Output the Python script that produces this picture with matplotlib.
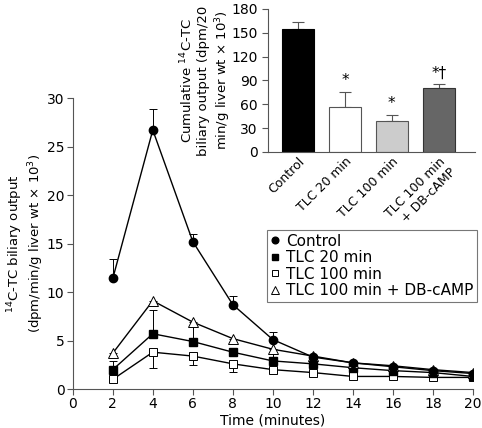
import numpy as np
import matplotlib
matplotlib.use("Agg")
import matplotlib.pyplot as plt

# time course data
time = [2, 4, 6, 8, 10, 12, 14, 16, 18, 20]
control = [11.4, 26.7, 15.2, 8.7, 5.1, 3.3, 2.7, 2.3, 1.9, 1.6]
control_err = [2.0, 2.2, 0.8, 0.9, 0.8, 0.2, 0.2, 0.2, 0.2, 0.2]
tlc20 = [2.0, 5.7, 4.9, 3.8, 2.9, 2.6, 2.2, 1.9, 1.7, 1.3]
tlc20_err = [0.9, 2.4, 0.3, 0.3, 0.3, 0.2, 0.2, 0.2, 0.2, 0.2]
tlc100 = [1.0, 3.8, 3.4, 2.6, 2.0, 1.7, 1.3, 1.3, 1.2, 1.2]
tlc100_err = [0.3, 1.6, 0.9, 0.8, 0.3, 0.2, 0.2, 0.2, 0.2, 0.2]
tlc100_db = [3.7, 9.1, 6.9, 5.2, 4.1, 3.4, 2.7, 2.4, 2.0, 1.7]
tlc100_db_err = [0.3, 0.3, 2.0, 0.4, 0.8, 0.2, 0.2, 0.2, 0.2, 0.3]

# cumulative output (inset)
groups = ["Control", "TLC 20 min", "TLC 100 min", "TLC 100 min\n+ DB-cAMP"]
cumulative = [155, 57, 39, 81]
cumulative_err = [8, 19, 8, 4]
marks = ["", "*", "*", "*\u2020"]
bar_colors = ["black", "white", "#cccccc", "#666666"]

plt.rcParams['font.family'] = 'DejaVu Sans'
fig = plt.figure(figsize=(4.82, 4.28), dpi=100)
ax = fig.add_axes([0.151, 0.091, 0.830, 0.680])

zeros = [0] * len(time)
ax.errorbar(time, control, yerr=[zeros, control_err], color='black', marker='o', ms=6,
            mfc='black', mec='black', lw=1, elinewidth=0.7, capsize=3, capthick=0.7, label='Control', zorder=5)
ax.errorbar(time, tlc20, yerr=[zeros, tlc20_err], color='black', marker='s', ms=6,
            mfc='black', mec='black', lw=1, elinewidth=0.7, capsize=3, capthick=0.7, label='TLC 20 min', zorder=4)
ax.errorbar(time, tlc100, yerr=[tlc100_err, zeros], color='black', marker='s', ms=6,
            mfc='white', mec='black', mew=0.7, lw=1, elinewidth=0.7, capsize=3, capthick=0.7, label='TLC 100 min', zorder=3)
ax.errorbar(time, tlc100_db, yerr=[tlc100_db_err, zeros], color='black', marker='^', ms=7,
            mfc='white', mec='black', mew=0.7, lw=1, elinewidth=0.7, capsize=3, capthick=0.7,
            label='TLC 100 min + DB-cAMP', zorder=4)

ax.set_xlim(0, 20)
ax.set_ylim(0, 30)
ax.set_xticks(range(0, 21, 2))
ax.set_yticks(range(0, 31, 5))
ax.spines['top'].set_visible(False)
ax.spines['right'].set_visible(False)
ax.spines['left'].set_color('#555555')
ax.spines['bottom'].set_color('#555555')
ax.tick_params(colors='#555555', labelcolor='black', labelsize=10, length=4, width=0.8, pad=2)
ax.set_xlabel("Time (minutes)", fontsize=10)
ax.xaxis.set_label_coords(0.5, -0.083)
ax.set_ylabel("$^{14}$C-TC biliary output\n(dpm/min/g liver wt \u00d7 10$^3$)", fontsize=9.5,
              linespacing=1.1)
ax.yaxis.set_label_coords(-0.066, 0.5)

handles, labels = ax.get_legend_handles_labels()
handles = [h[0] for h in handles]
leg = ax.legend(handles, labels, loc='upper left', bbox_to_anchor=(0.554, 0.463),
                bbox_transform=fig.transFigure, fontsize=11, frameon=True, fancybox=False,
                handlelength=0.6, handletextpad=0.4, labelspacing=0.1, borderpad=0.25,
                borderaxespad=0, markerscale=0.8)
for h in leg.legend_handles:
    h.set_linestyle('none')
leg.get_frame().set_edgecolor('#555555')
leg.get_frame().set_linewidth(0.8)

# inset bar chart
ins = fig.add_axes([0.556, 0.645, 0.429, 0.334])
xpos = np.arange(len(groups))
ins.bar(xpos, cumulative, width=0.68, color=bar_colors, edgecolor=['black', '#555555', '#555555', '#333333'],
        linewidth=0.8, zorder=2)
ins.errorbar(xpos, cumulative, yerr=[[0] * 4, cumulative_err], fmt='none', ecolor='#555555',
             elinewidth=0.8, capsize=4, capthick=0.8, zorder=1)
for x, v, e, m in zip(xpos, cumulative, cumulative_err, marks):
    if m:
        ins.text(x, v + e + 4, m, ha='center', va='bottom', fontsize=11)
ins.set_xlim(-0.64, 3.77)
ins.set_ylim(0, 180)
ins.set_yticks(range(0, 181, 30))
ins.set_xticks(xpos)
ins.set_xticklabels(groups, rotation=45, ha='right', rotation_mode='anchor', fontsize=9)
ins.tick_params(axis='x', length=0, pad=2)
ins.tick_params(axis='y', colors='#555555', labelcolor='black', labelsize=10, length=4, width=0.8)
ins.spines['top'].set_visible(False)
ins.spines['right'].set_visible(False)
ins.spines['left'].set_color('#555555')
ins.spines['bottom'].set_color('#555555')
ins.set_ylabel("Cumulative $^{14}$C-TC\nbiliary output (dpm/20\nmin/g liver wt \u00d7 10$^3$)",
               fontsize=9.5)
ins.yaxis.set_label_coords(-0.17, 0.5)

fig.savefig("out.png", dpi=100)
